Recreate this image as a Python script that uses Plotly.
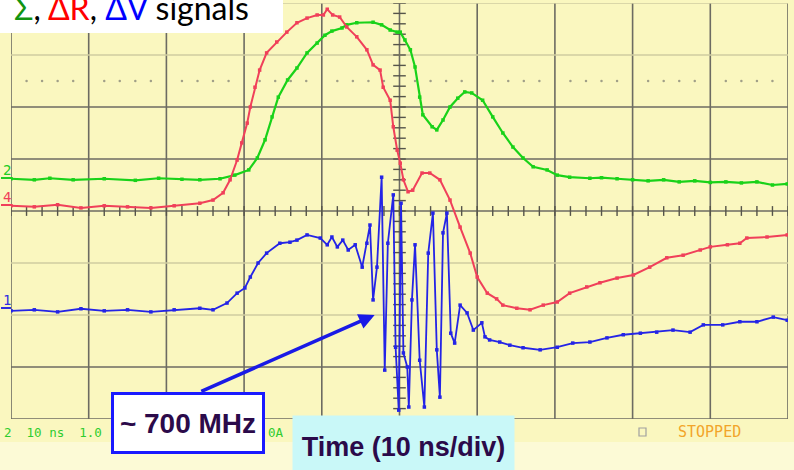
import plotly.graph_objects as go

# Time in ns (10 ns/div), amplitude in screen divisions (8 div tall, 0 at centre)
sum_t = [0, 3, 5, 8, 12, 16, 19, 22, 24.3, 26.9, 28.8, 30.6, 31.7, 32.7, 33.6, 34.4, 35.6,
         36.8, 38.1, 39.4, 40.4, 41.3, 42.6, 43.2, 44.5, 46.6, 47.7, 48.8, 49.7, 50.1, 50.7,
         51.4, 52.0, 52.6, 53.0, 54.2, 54.8, 55.6, 56.5, 57.5, 58.4, 59.3, 60.7, 62.0, 63.3,
         64.6, 65.9, 67.2, 69.0, 70.3, 71.9, 74.5, 76, 78, 80, 82, 84, 86, 88, 90, 92, 94,
         96, 98, 99.9]
sum_v = [0.62, 0.60, 0.63, 0.60, 0.62, 0.59, 0.63, 0.61, 0.60, 0.62, 0.69, 0.79, 1.02, 1.37,
         1.81, 2.19, 2.52, 2.75, 3.04, 3.23, 3.38, 3.46, 3.52, 3.58, 3.62, 3.63, 3.58, 3.48,
         3.44, 3.44, 3.29, 3.10, 2.77, 2.19, 1.85, 1.62, 1.56, 1.75, 2.00, 2.17, 2.29, 2.27,
         2.13, 1.81, 1.50, 1.23, 1.02, 0.85, 0.79, 0.69, 0.65, 0.63, 0.64, 0.62, 0.60, 0.58,
         0.60, 0.56, 0.58, 0.55, 0.56, 0.54, 0.56, 0.50, 0.52]

dr_t = [0, 3, 6, 9, 12, 15, 18, 21, 24.3, 26.0, 27.3, 28.2, 29.1, 29.7, 30.4, 30.8, 31.4,
        32.0, 32.9, 34.2, 35.5, 36.8, 38.1, 39.4, 40.2, 40.7, 41.4, 42.3, 43.2, 44.5, 45.8,
        46.6, 47.5, 47.9, 48.8, 49.2, 49.7, 50.1, 50.5, 51.1, 51.7, 52.9, 53.9, 55.2, 56.5,
        57.8, 59.1, 60.0, 61.3, 62.5, 63.3, 65.1, 66.8, 68.5, 70.3, 71.9, 74.1, 75.8, 78.0,
        80.1, 82.2, 84.4, 86.5, 88.7, 90.0, 92.2, 93.8, 94.7, 97.3, 99.9]
dr_v = [0.10, 0.08, 0.12, 0.06, 0.10, 0.08, 0.06, 0.10, 0.15, 0.21, 0.35, 0.60, 0.98, 1.31,
        1.69, 2.00, 2.38, 2.71, 3.04, 3.25, 3.44, 3.62, 3.71, 3.77, 3.77, 3.88, 3.77, 3.73,
        3.54, 3.35, 3.10, 2.81, 2.71, 2.38, 2.13, 1.62, 1.17, 0.92, 0.60, 0.37, 0.40, 0.73,
        0.73, 0.60, 0.21, -0.31, -0.81, -1.27, -1.58, -1.69, -1.81, -1.87, -1.90, -1.81,
        -1.75, -1.58, -1.46, -1.38, -1.29, -1.23, -1.08, -0.90, -0.85, -0.75, -0.69, -0.65,
        -0.62, -0.52, -0.50, -0.46]

dv_t = [0, 3, 6, 9, 12, 15, 18, 21, 24.3, 26.0, 27.8, 29.1, 30.1, 30.8, 31.8, 32.9, 34.6,
        35.9, 36.8, 38.1, 39.8, 40.7, 41.3, 42.0, 42.7, 43.4, 44.3, 45.2, 45.8, 46.2, 46.6,
        47.1, 47.7, 48.1, 48.5, 49.2, 49.5, 49.9, 50.2, 50.5, 51.0, 51.2, 51.6, 52.0, 52.6,
        53.2, 53.7, 54.3, 54.8, 55.2, 55.6, 56.1, 56.6, 57.1, 57.8, 58.7, 59.5, 60.6, 61.0,
        61.6, 62.9, 64.2, 65.9, 68.1, 70.3, 72.3, 74.5, 76.7, 78.8, 81.0, 83.1, 85.2, 87.4,
        89.1, 91.6, 93.8, 96.0, 98.1, 99.9]
dv_v = [-1.92, -1.90, -1.94, -1.88, -1.92, -1.90, -1.94, -1.90, -1.87, -1.90, -1.77, -1.58,
        -1.48, -1.27, -1.00, -0.81, -0.62, -0.60, -0.56, -0.46, -0.52, -0.65, -0.50, -0.69,
        -0.56, -0.75, -0.65, -1.08, -0.62, -0.27, -1.71, -1.08, 0.65, -3.06, -0.62, 0.31,
        -2.62, -3.83, 0.15, -2.73, -3.00, -3.77, -1.71, -0.65, -2.87, -3.77, -0.81, -0.04,
        -2.67, -3.58, -0.42, -0.04, -2.35, -2.54, -1.81, -1.96, -2.29, -2.15, -2.42, -2.48,
        -2.52, -2.58, -2.63, -2.67, -2.62, -2.54, -2.52, -2.44, -2.38, -2.35, -2.33, -2.29,
        -2.33, -2.19, -2.19, -2.13, -2.13, -2.04, -2.10]

# Screen geometry helpers (pixel -> paper fraction)
L, T, W, H = 11, 3, 777, 416


def px(xp):
    return (xp - L) / W


def py(yp):
    return (T + H - yp) / H


BG = "#FAF7BF"
GRID_DARK = "#6c6b62"
GRID_LIGHT = "#cfcca0"

fig = go.Figure()

# graticule
shapes = []
for k in range(0, 101, 10):
    shapes.append(dict(type="line", xref="x", yref="y", x0=k, x1=k, y0=-4, y1=4,
                       line=dict(color=GRID_DARK, width=1.6), layer="below"))
for lvl, dark in [(4, False), (3, False), (2, True), (1, True), (0, True),
                  (-1, False), (-2, False), (-3, True), (-4, True)]:
    shapes.append(dict(type="line", xref="x", yref="y", x0=0, x1=100, y0=lvl, y1=lvl,
                       line=dict(color=GRID_DARK if dark else GRID_LIGHT,
                                 width=1.6 if dark else 1.4), layer="below"))

# lighter strip under the status line
shapes.append(dict(type="rect", xref="paper", yref="paper", x0=px(-5), x1=px(800),
                   y0=py(442), y1=py(480), fillcolor="#FCFAD6", line=dict(width=0),
                   layer="below"))
# title box
shapes.append(dict(type="rect", xref="paper", yref="paper", x0=px(-2), x1=px(283),
                   y0=py(33), y1=py(-2), fillcolor="white", line=dict(width=0),
                   layer="above"))
# ground markers at the left edge
for col, yl in [("#22cc22", 178), ("#f0405a", 205), ("#3030e0", 308)]:
    shapes.append(dict(type="line", xref="paper", yref="paper", x0=px(1), x1=px(11),
                       y0=py(yl), y1=py(yl), line=dict(color=col, width=2)))
# status square
shapes.append(dict(type="rect", xref="paper", yref="paper", x0=px(639), x1=px(646),
                   y0=py(436), y1=py(428), line=dict(color="#a0a0a0", width=1.2)))

# dotted reference row
dot_x = [t for t in range(2, 100, 2) if t % 10 != 0]
fig.add_trace(go.Scatter(x=dot_x, y=[2.5] * len(dot_x), mode="markers",
                         marker=dict(size=2.5, color="#a09f88"), hoverinfo="skip",
                         showlegend=False))

# centre-axis tick marks
tx = [t for t in range(0, 101, 2)]
fig.add_trace(go.Scatter(x=tx, y=[0] * len(tx), mode="markers",
                         marker=dict(symbol="line-ns", size=7,
                                     line=dict(color="#55544a", width=1.4)),
                         hoverinfo="skip", showlegend=False))
ty = [i / 5 for i in range(-20, 21)]
fig.add_trace(go.Scatter(x=[50] * len(ty), y=ty, mode="markers",
                         marker=dict(symbol="line-ew", size=9,
                                     line=dict(color="#55544a", width=1.4)),
                         hoverinfo="skip", showlegend=False))

# signal traces
for t, v, col, w in [(sum_t, sum_v, "#19d219", 2.2),
                     (dr_t, dr_v, "#f0405a", 2.0),
                     (dv_t, dv_v, "#2424e6", 1.8)]:
    fig.add_trace(go.Scatter(x=t, y=v, mode="lines+markers",
                             line=dict(color=col, width=w),
                             marker=dict(symbol="square", size=3.5, color=col),
                             showlegend=False))

mono = "DejaVu Sans Mono"
bold_font = "Liberation Sans Narrow, Arial Narrow, Liberation Sans, Arial"
annotations = [
    # channel labels
    dict(text="2", x=px(1), y=py(170), font=dict(family=mono, size=14, color="#22cc22")),
    dict(text="4", x=px(1), y=py(197), font=dict(family=mono, size=14, color="#f0405a")),
    dict(text="1", x=px(1), y=py(300), font=dict(family=mono, size=14, color="#3030e0")),
    # status line
    dict(text="2  10 ns  1.0", x=px(2), y=py(432),
         font=dict(family=mono, size=12.5, color="#2ecc2e")),
    dict(text="0A '", x=px(266), y=py(432),
         font=dict(family=mono, size=12.5, color="#2ecc2e")),
    dict(text="STOPPED", x=px(676), y=py(432),
         font=dict(family=mono, size=15, color="#f2a52a")),
    # title
    dict(text="<span style='color:#119411'>Σ</span>, <span style='color:#ff0000'>ΔR</span>, "
              "<span style='color:#0000ff'>ΔV</span> signals",
         x=px(12), y=py(8), font=dict(family="Lato, Open Sans", size=32, color="black")),
]
for a in annotations:
    a.update(xref="paper", yref="paper", xanchor="left", yanchor="middle", showarrow=False)

# arrow pointing at the burst
annotations.append(dict(text="", xref="x", yref="y", axref="x", ayref="y",
                        x=46.8, y=-2.0, ax=24.3, ay=-3.48, showarrow=True,
                        arrowhead=2, arrowsize=0.9, arrowwidth=3.5,
                        arrowcolor="#1a1ae6"))
annotations.append(dict(text="<b>~ 700 MHz</b>", xref="paper", yref="paper",
                        x=px(111), y=py(392), xanchor="left", yanchor="top",
                        width=148, height=56, bgcolor="white", bordercolor="#1a1aff",
                        borderwidth=3, borderpad=0, showarrow=False,
                        font=dict(family=bold_font, size=28, color="#2b0a4a")))
annotations.append(dict(text="<b>Time (10 ns/div)</b>", xref="paper", yref="paper",
                        x=px(292), y=py(415), xanchor="left", yanchor="top",
                        width=221, height=62, bgcolor="#C9F8F8", borderpad=0,
                        showarrow=False,
                        font=dict(family=bold_font, size=27, color="#2b0a4a")))

fig.update_layout(
    width=794, height=470,
    margin=dict(l=L, r=794 - L - W, t=T, b=470 - T - H),
    paper_bgcolor=BG, plot_bgcolor=BG,
    xaxis=dict(range=[0, 100], showgrid=False, zeroline=False, showticklabels=False,
               showline=False, fixedrange=True),
    yaxis=dict(range=[-4, 4], showgrid=False, zeroline=False, showticklabels=False,
               showline=False, fixedrange=True),
    shapes=shapes, annotations=annotations, showlegend=False,
)

fig.write_html("out.html")
